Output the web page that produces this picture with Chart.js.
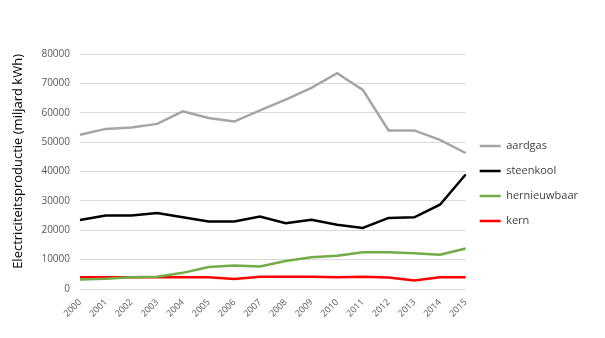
<!DOCTYPE html>
<html lang="nl">
<head>
  <meta charset="UTF-8" />
  <title>Electriciteitsproductie</title>
  <script src="https://cdn.jsdelivr.net/npm/chart.js"></script>
  <style>
    html, body { margin: 0; padding: 0; background: #fff; }
    #wrap { width: 605px; height: 338px; }
  </style>
</head>
<body>
  <div id="wrap"><canvas id="productionChart"></canvas></div>

  <script>
    const years = ["2000", "2001", "2002", "2003", "2004", "2005", "2006", "2007",
                   "2008", "2009", "2010", "2011", "2012", "2013", "2014", "2015"];

    const aardgas      = [52500, 54500, 55000, 56200, 60500, 58200, 57000, 60800,
                          64500, 68500, 73500, 67800, 54000, 54000, 50800, 46300];
    const steenkool    = [23500, 25000, 25000, 25900, 24400, 23000, 23000, 24700,
                          22400, 23600, 21900, 20800, 24200, 24400, 28700, 39000];
    const hernieuwbaar = [3200, 3500, 4000, 4200, 5500, 7500, 8000, 7700,
                          9500, 10800, 11300, 12500, 12500, 12200, 11700, 13800];
    const kern         = [4000, 4000, 4000, 4000, 4000, 4000, 3400, 4200,
                          4200, 4200, 4000, 4200, 3900, 2900, 4000, 4000];

    const yTicks = [0, 10000, 20000, 30000, 40000, 50000, 60000, 70000, 80000];

    function line(label, data, color) {
      return {
        label: label,
        data: data,
        borderColor: color,
        backgroundColor: color,
        borderWidth: 2.5,
        pointRadius: 0,
        tension: 0,
        fill: false
      };
    }

    const ctx = document.getElementById("productionChart").getContext("2d");

    new Chart(ctx, {
      type: "line",
      data: {
        labels: years,
        datasets: [
          line("aardgas", aardgas, "#a5a5a5"),
          line("steenkool", steenkool, "#000000"),
          line("hernieuwbaar", hernieuwbaar, "#70ad47"),
          line("kern", kern, "#ff0000")
        ]
      },
      options: {
        responsive: true,
        maintainAspectRatio: false,
        animation: false,
        layout: { padding: { left: 6, top: 54, right: 17, bottom: 0 } },
        plugins: {
          tooltip: { enabled: false },
          legend: {
            position: "right",
            fullSize: false,
            // blank title just nudges the items down a little
            title: { display: true, text: " ", padding: 0, font: { size: 20 } },
            labels: {
              usePointStyle: true,
              pointStyle: "line",
              pointStyleWidth: 21,
              padding: 14,
              color: "#404040",
              font: { family: "Open Sans", size: 11 }
            }
          }
        },
        scales: {
          x: {
            offset: false,
            grid: { display: false, drawTicks: false },
            border: { display: false },
            ticks: {
              color: "#595959",
              font: { family: "Open Sans", size: 9 },
              maxRotation: 45,
              minRotation: 45,
              autoSkip: false,
              padding: 8
            },
            afterFit: scale => { scale.height = 49; }
          },
          y: {
            min: 0,
            max: 80000,
            afterBuildTicks: scale => { scale.ticks = yTicks.map(v => ({ value: v })); },
            grid: { color: "#d9d9d9", drawTicks: false },
            border: { display: false },
            ticks: {
              color: "#595959",
              font: { family: "Open Sans", size: 10 },
              padding: 10,
              callback: value => String(value)
            },
            title: {
              display: true,
              text: "Electriciteitsproductie (miljard kWh)",
              align: "end",
              color: "#000000",
              font: { family: "Open Sans", size: 13 },
              padding: { top: 4, bottom: 0 }
            },
            afterFit: scale => { scale.width = 74; }
          }
        }
      }
    });
  </script>
</body>
</html>
